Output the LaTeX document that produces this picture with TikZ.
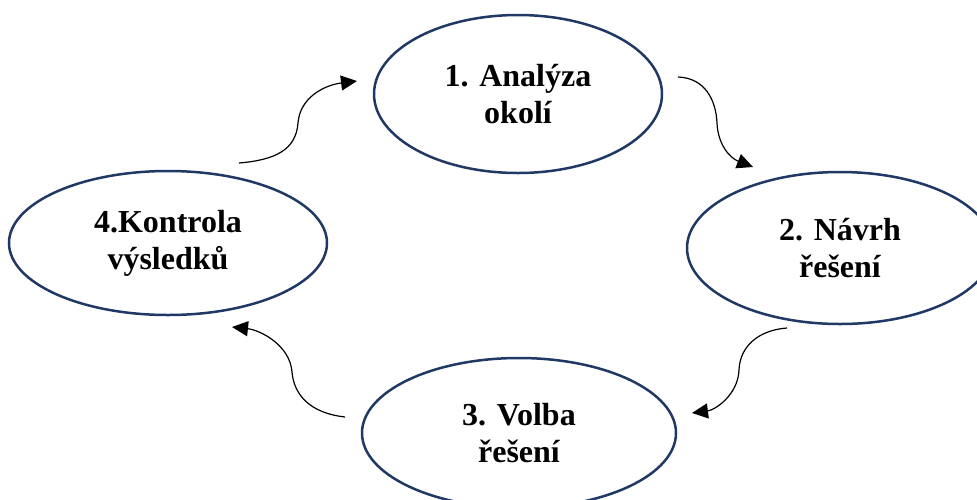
\documentclass[tikz,border=0pt]{standalone}
\usepackage{fontspec}
\setmainfont{Liberation Serif}
\usetikzlibrary{shapes.geometric,arrows.meta}
\definecolor{navy}{RGB}{31,56,100}
\begin{document}
\begin{tikzpicture}[x=1pt,y=-1pt,
  stage/.style={ellipse,draw=navy,line width=2.5pt,inner sep=0pt,align=center,
    font=\fontsize{32}{37}\selectfont\bfseries},
  flow/.style={line width=1.2pt,-{Triangle[length=16pt,width=15pt]}}]
\clip (0,0) rectangle (977,499);
\node[stage,minimum width=288pt,minimum height=158pt] (s1) at (518,94) {1. Analýza\\okolí};
\node[stage,minimum width=306pt,minimum height=152pt] (s2) at (840,248) {2. Návrh\\řešení};
\node[stage,minimum width=314pt,minimum height=150pt] (s3) at (519,433) {3. Volba\\řešení};
\node[stage,minimum width=318pt,minimum height=144pt] (s4) at (168,243) {4.Kontrola\\výsledků};
% connector end points
\coordinate (a1s) at (239,163); \coordinate (a1m) at (298,123); \coordinate (a1e) at (357,81);
\coordinate (a2s) at (678,77);  \coordinate (a2m) at (717,123); \coordinate (a2e) at (753,167);
\coordinate (a3s) at (787,328); \coordinate (a3m) at (739,370); \coordinate (a3e) at (692,413);
\coordinate (a4s) at (345,417); \coordinate (a4m) at (292,372); \coordinate (a4e) at (232,327);
\draw[flow] (a1s) .. controls (275,160) and (296,150) .. (a1m) .. controls (300,97) and (325,85) .. (a1e);
\draw[flow] (a2s) .. controls (705,78) and (716,100) .. (a2m) .. controls (718,145) and (730,158) .. (a2e);
\draw[flow] (a3s) .. controls (760,330) and (740,345) .. (a3m) .. controls (738,395) and (715,410) .. (a3e);
\draw[flow] (a4s) .. controls (310,413) and (294,395) .. (a4m) .. controls (290,345) and (260,330) .. (a4e);
\end{tikzpicture}
\end{document}
